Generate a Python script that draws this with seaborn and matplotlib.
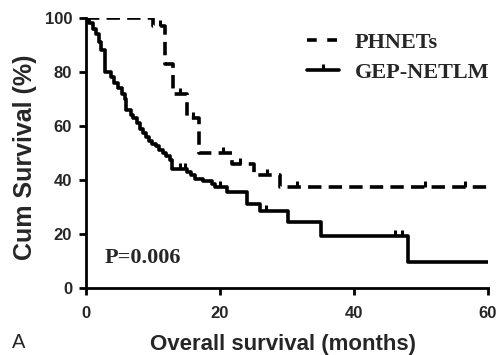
import numpy as np
import pandas as pd
import matplotlib
matplotlib.use("Agg")
import matplotlib.pyplot as plt
from matplotlib.lines import Line2D
import seaborn as sns

# ---- data ----
ph_time = [0, 10.0, 11.8, 13.0, 15.0, 16.9, 21.8, 25.0, 29.0, 60]
ph_surv = [100, 97, 83, 72, 63, 50, 46, 42, 37.5, 37.5]
ph_censor = [11.0, 14.0, 16.0, 20.5, 23.0, 27.0, 31.5, 50.6, 56.5]

gep_time = [0, 0.5, 1.0, 1.5, 2.0, 2.3, 2.9, 3.7, 4.2, 4.8, 5.4, 5.8, 6.0,
            6.7, 7.0, 7.6, 8.0, 8.5, 8.9, 9.4, 9.9, 10.4, 10.9, 11.5, 12.0,
            12.5, 12.8, 15.0, 15.7, 16.3, 17.5, 18.8, 19.3, 21.0, 24.0, 26.0,
            30.2, 35.0, 48.1, 60]
gep_surv = [100, 98, 96, 94, 91, 88, 80, 78, 76, 74, 72, 70, 66,
            64, 63, 61, 59, 57.5, 56, 54.5, 53.5, 52.5, 51, 50, 49,
            47.5, 44, 43, 42, 40.5, 39.5, 38.5, 37.5, 35.7, 31, 28.5,
            24.4, 19.2, 9.8, 9.8]
gep_censor = [14.0, 14.8, 20.0, 26.8, 46.1, 47.1]

labels = ["PHNETs", "GEP-NETLM"]
x_ticks = [0, 20, 40, 60]
y_ticks = [0, 20, 40, 60, 80, 100]


def step_value(times, surv, t):
    idx = np.searchsorted(times, t, side="right") - 1
    return np.asarray(surv)[idx]


sns.set_style("ticks")
plt.rcParams["font.family"] = ["Liberation Sans", "DejaVu Sans"]

W, H = 499, 355
fig = plt.figure(figsize=(W / 100, H / 100), dpi=100)
ax = fig.add_axes([86 / W, 1 - 288 / H, (488 - 86) / W, (288 - 18) / H])

lw = 2.6
df_ph = pd.DataFrame({"t": ph_time, "s": ph_surv})
df_gep = pd.DataFrame({"t": gep_time, "s": gep_surv})

sns.lineplot(data=df_ph, x="t", y="s", ax=ax, drawstyle="steps-post",
             color="black", linewidth=lw, estimator=None, sort=False,
             linestyle=(0, (3.7, 2.0)), dash_capstyle="butt")
sns.lineplot(data=df_gep, x="t", y="s", ax=ax, drawstyle="steps-post",
             color="black", linewidth=lw, estimator=None, sort=False)

tick_marker = [(0, 0), (0, 1)]
ax.plot(ph_censor, step_value(ph_time, ph_surv, ph_censor), linestyle="none",
        marker=tick_marker, markersize=9, markeredgewidth=2.2, color="black")
ax.plot(gep_censor, step_value(gep_time, gep_surv, gep_censor), linestyle="none",
        marker=tick_marker, markersize=9, markeredgewidth=2.2, color="black")

ax.set_xlim(0, 60)
ax.set_ylim(0, 100)
ax.set_xticks(x_ticks)
ax.set_yticks(y_ticks)
ax.set_xticklabels([str(v) for v in x_ticks], fontsize=12, fontweight="bold")
ax.set_yticklabels([str(v) for v in y_ticks], fontsize=12, fontweight="bold")
ax.tick_params(axis="both", direction="out", length=5, width=2, color="black")
ax.tick_params(axis="x", pad=8)
ax.tick_params(axis="y", pad=5)
for side in ["top", "right"]:
    ax.spines[side].set_visible(False)
for side in ["left", "bottom"]:
    ax.spines[side].set_linewidth(2)
    ax.spines[side].set_color("black")

ax.set_xlabel("Overall survival (months)", fontsize=16, fontweight="bold")
ax.xaxis.set_label_coords((282.5 - 86) / 402, -(334 - 288) / 270)
ax.set_ylabel("Cum Survival (%)", fontsize=18, fontweight="bold")
ax.yaxis.set_label_coords(-(86 - 37) / 402, (288 - 157) / 270)

ax.text((105 - 86) / 402, (288 - 258) / 270, "P=0.006", transform=ax.transAxes,
        fontsize=16, fontweight="bold", family=["Liberation Serif", "DejaVu Serif"],
        va="center", ha="left")

handles = [
    Line2D([], [], color="black", linewidth=lw, linestyle=(0, (2.7, 2.9))),
    Line2D([], [], color="black", linewidth=lw, marker=tick_marker,
           markersize=9, markeredgewidth=2.2, markevery=[1]),
]
leg = ax.legend(handles, labels, loc="upper left",
                bbox_to_anchor=(307 / W, 1 - 32 / H),
                bbox_transform=fig.transFigure,
                frameon=False, handlelength=1.45, handletextpad=0.7,
                labelspacing=0.45, borderpad=0, borderaxespad=0,
                prop={"family": "Liberation Serif", "weight": "bold",
                      "size": 16})

fig.text(12 / W, 1 - 343 / H, "A", fontsize=14.5, va="center", ha="left")

fig.savefig("out.png", dpi=100)
